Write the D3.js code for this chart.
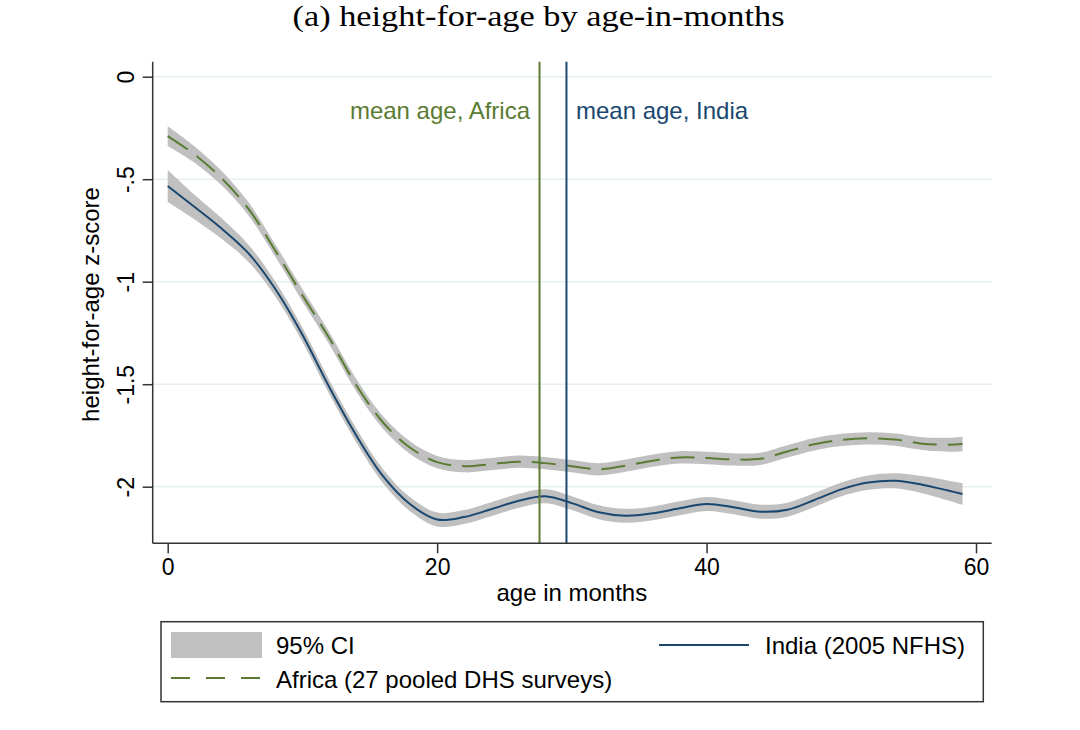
<!DOCTYPE html>
<html lang="en">
<head>
    <meta charset="UTF-8">
    <title>height-for-age by age-in-months</title>
    <script src="https://d3js.org/d3.v7.min.js"></script>
    <style>
        body { margin: 0; background: #fff; }
        text { font-family: "Liberation Sans", Arial, sans-serif; fill: #000; }
        .title { font-family: "Liberation Serif", "Times New Roman", serif; }
    </style>
</head>
<body>
    <script>
        // data (age in months, mean z-score, CI half-width)
        const ages = [0, 2, 4, 6, 8, 10, 12, 14, 16, 18, 20, 22, 24, 26, 28, 30,
                      32, 34, 36, 38, 40, 42, 44, 46, 48, 50, 52, 54, 56, 58, 59];
        const africaHaz = [-0.29, -0.38, -0.495, -0.645, -0.85, -1.066, -1.276, -1.505, -1.688, -1.81,
                           -1.88, -1.9, -1.89, -1.878, -1.885, -1.9, -1.915, -1.897, -1.873, -1.857,
                           -1.86, -1.867, -1.864, -1.828, -1.793, -1.772, -1.764, -1.77, -1.79, -1.795, -1.792];
        const africaCi = [0.048, 0.04, 0.035, 0.032, 0.03, 0.03, 0.03, 0.03, 0.03, 0.03,
                          0.03, 0.03, 0.03, 0.03, 0.03, 0.03, 0.03, 0.03, 0.03, 0.03,
                          0.03, 0.03, 0.03, 0.03, 0.03, 0.03, 0.03, 0.03, 0.031, 0.034, 0.036];
        const indiaHaz = [-0.533, -0.636, -0.741, -0.862, -1.037, -1.259, -1.515, -1.75, -1.95, -2.086,
                          -2.16, -2.148, -2.11, -2.07, -2.047, -2.08, -2.125, -2.142, -2.13, -2.105,
                          -2.084, -2.1, -2.122, -2.112, -2.065, -2.013, -1.98, -1.971, -1.99, -2.02, -2.036];
        const indiaCi = [0.078, 0.06, 0.05, 0.042, 0.037, 0.035, 0.034, 0.034, 0.034, 0.034,
                         0.034, 0.034, 0.034, 0.034, 0.034, 0.034, 0.034, 0.034, 0.034, 0.034,
                         0.034, 0.034, 0.034, 0.034, 0.034, 0.034, 0.035, 0.037, 0.042, 0.049, 0.053];
        const meanAgeAfrica = 27.6;
        const meanAgeIndia = 29.6;
        const xTicks = [0, 20, 40, 60];
        const yTicks = [0, -0.5, -1, -1.5, -2];
        const yTickLabels = ["0", "-.5", "-1", "-1.5", "-2"];

        const green = "#5a7b32";
        const navy = "#1a476f";
        const ciGray = "#c0c0c0";

        const width = 1080, height = 730;
        const plot = { left: 152.7, right: 991.7, top: 61.7, bottom: 543.3 };

        const svg = d3.select("body").append("svg")
            .attr("width", width)
            .attr("height", height);

        const x = d3.scaleLinear().domain([0, 60]).range([167.7, 976]);
        const y = d3.scaleLinear().domain([0, -2]).range([76.7, 486.7]);

        // title
        svg.append("text")
            .attr("class", "title")
            .attr("x", 538.5)
            .attr("y", 26)
            .attr("text-anchor", "middle")
            .attr("font-size", 29)
            .attr("textLength", 492)
            .attr("lengthAdjust", "spacingAndGlyphs")
            .text("(a) height-for-age by age-in-months");

        // gridlines
        svg.append("g")
            .selectAll("line")
            .data(yTicks)
            .join("line")
            .attr("x1", plot.left)
            .attr("x2", plot.right)
            .attr("y1", d => y(d))
            .attr("y2", d => y(d))
            .attr("stroke", "#e6eff0")
            .attr("stroke-width", 1.5);

        // CI bands
        const bandData = (haz, ci) => ages.map((a, i) => ({ a, lo: haz[i] - ci[i], hi: haz[i] + ci[i] }));
        const area = d3.area()
            .x(d => x(d.a))
            .y0(d => y(d.lo))
            .y1(d => y(d.hi))
            .curve(d3.curveCatmullRom.alpha(0.5));

        svg.append("path").datum(bandData(indiaHaz, indiaCi)).attr("d", area).attr("fill", ciGray);
        svg.append("path").datum(bandData(africaHaz, africaCi)).attr("d", area).attr("fill", ciGray);

        // mean lines
        const line = d3.line()
            .x((d, i) => x(ages[i]))
            .y(d => y(d))
            .curve(d3.curveCatmullRom.alpha(0.5));

        svg.append("path").datum(africaHaz)
            .attr("d", line)
            .attr("fill", "none")
            .attr("stroke", green)
            .attr("stroke-width", 2)
            .attr("stroke-dasharray", "24,11");

        svg.append("path").datum(indiaHaz)
            .attr("d", line)
            .attr("fill", "none")
            .attr("stroke", navy)
            .attr("stroke-width", 2);

        // mean age markers
        const meanAges = [
            { age: meanAgeAfrica, color: green, label: "mean age, Africa", side: -1 },
            { age: meanAgeIndia, color: navy, label: "mean age, India", side: 1 }
        ];
        svg.append("g").selectAll("line")
            .data(meanAges)
            .join("line")
            .attr("x1", d => x(d.age))
            .attr("x2", d => x(d.age))
            .attr("y1", plot.top)
            .attr("y2", plot.bottom)
            .attr("stroke", d => d.color)
            .attr("stroke-width", 2);
        svg.append("g").selectAll("text")
            .data(meanAges)
            .join("text")
            .attr("x", d => x(d.age) + d.side * 9.5)
            .attr("y", 119)
            .attr("text-anchor", d => d.side < 0 ? "end" : "start")
            .attr("font-size", 24)
            .style("fill", d => d.color)
            .text(d => d.label);

        // axes
        const xAxis = svg.append("g")
            .attr("transform", `translate(0,${plot.bottom})`)
            .call(d3.axisBottom(x).tickValues(xTicks).tickSize(10).tickPadding(4).tickSizeOuter(0));
        xAxis.select(".domain").attr("d", `M${plot.left},0H${plot.right}`);
        xAxis.selectAll("text").attr("font-size", 23).attr("font-family", "Liberation Sans").attr("dy", "0.75em");

        const yAxis = svg.append("g")
            .attr("transform", `translate(${plot.left},0)`)
            .call(d3.axisLeft(y).tickValues(yTicks).tickSize(10).tickFormat((d, i) => yTickLabels[i]));
        yAxis.select(".domain").attr("d", `M0,${plot.top}V${plot.bottom}`);
        yAxis.selectAll("text")
            .attr("font-size", 23)
            .attr("font-family", "Liberation Sans")
            .attr("x", null)
            .attr("dy", null)
            .attr("text-anchor", "middle")
            .attr("transform", "translate(-19,0) rotate(-90)");
        svg.selectAll(".domain, .tick line").attr("stroke", "#333").attr("stroke-width", 1.5);

        // axis titles
        svg.append("text")
            .attr("x", x(30))
            .attr("y", 601)
            .attr("text-anchor", "middle")
            .attr("font-size", 24)
            .text("age in months");
        svg.append("text")
            .attr("transform", `translate(99,${(plot.top + plot.bottom) / 2 + 2}) rotate(-90)`)
            .attr("text-anchor", "middle")
            .attr("font-size", 24)
            .text("height-for-age z-score");

        // legend
        const lg = svg.append("g");
        lg.append("rect")
            .attr("x", 161).attr("y", 621.7)
            .attr("width", 822.3).attr("height", 80)
            .attr("fill", "#fff").attr("stroke", "#333").attr("stroke-width", 1.5);
        lg.append("rect")
            .attr("x", 171).attr("y", 632)
            .attr("width", 91).attr("height", 26)
            .attr("fill", ciGray);
        lg.append("line")
            .attr("x1", 171).attr("x2", 262).attr("y1", 678).attr("y2", 678)
            .attr("stroke", green).attr("stroke-width", 2).attr("stroke-dasharray", "19,16");
        lg.append("line")
            .attr("x1", 659).attr("x2", 749).attr("y1", 645).attr("y2", 645)
            .attr("stroke", navy).attr("stroke-width", 2);
        const legendText = [
            { x: 276, y: 654, t: "95% CI" },
            { x: 276, y: 688, t: "Africa (27 pooled DHS surveys)" },
            { x: 765, y: 654, t: "India (2005 NFHS)" }
        ];
        lg.selectAll("text.lbl")
            .data(legendText)
            .join("text")
            .attr("class", "lbl")
            .attr("x", d => d.x)
            .attr("y", d => d.y)
            .attr("font-size", 24)
            .text(d => d.t);
    </script>
</body>
</html>
